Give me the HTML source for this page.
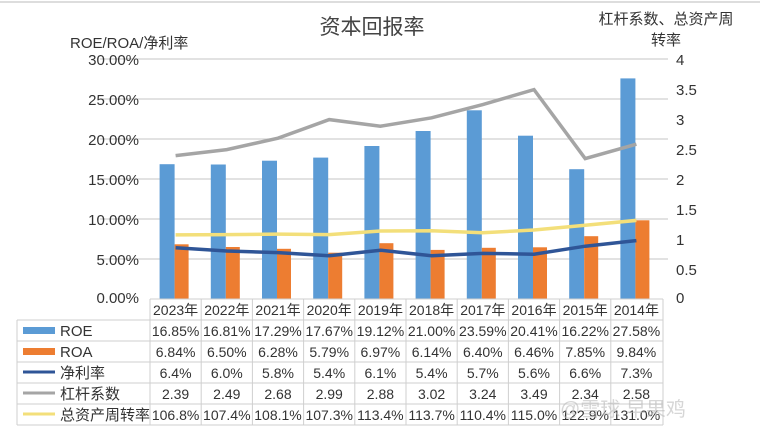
<!DOCTYPE html>
<html><head><meta charset="utf-8"><style>
body{margin:0;background:#fff;}
svg{display:block;font-family:"Liberation Sans","Noto Sans CJK SC",sans-serif;}
</style></head><body>
<svg width="760" height="434" viewBox="0 0 760 434">
<rect x="0" y="0" width="760" height="434" fill="#fff"/>
<line x1="0" y1="2" x2="760" y2="2" stroke="#ddd" stroke-width="2"/>
<text x="372" y="34" font-size="21" text-anchor="middle" fill="#444">资本回报率</text>
<text x="70" y="48" font-size="15" fill="#333">ROE/ROA/净利率</text>
<text x="666" y="24" font-size="15" text-anchor="middle" fill="#333">杠杆系数、总资产周</text>
<text x="666" y="45" font-size="15" text-anchor="middle" fill="#333">转率</text>
<g stroke="#d0d0d0" stroke-width="1.2">
<line x1="100" y1="59" x2="668" y2="59"/><line x1="100" y1="99" x2="668" y2="99"/>
<line x1="100" y1="139" x2="668" y2="139"/><line x1="100" y1="179" x2="668" y2="179"/>
<line x1="100" y1="219" x2="668" y2="219"/><line x1="100" y1="259" x2="668" y2="259"/>
</g>
<g font-size="15" fill="#333" text-anchor="end">
<text x="139" y="65">30.00%</text><text x="139" y="105">25.00%</text><text x="139" y="145">20.00%</text>
<text x="139" y="185">15.00%</text><text x="139" y="225">10.00%</text><text x="139" y="265">5.00%</text>
<text x="139" y="303">0.00%</text>
</g>
<g font-size="15" fill="#333">
<text x="676" y="65">4</text><text x="676" y="95">3.5</text><text x="676" y="125">3</text>
<text x="676" y="155">2.5</text><text x="676" y="185">2</text><text x="676" y="215">1.5</text>
<text x="676" y="245">1</text><text x="676" y="275">0.5</text><text x="676" y="303">0</text>
</g>
<g fill="#5b9bd5">
<rect x="159.6" y="164.2" width="15" height="134.8"/><rect x="210.8" y="164.5" width="15" height="134.5"/>
<rect x="262" y="160.7" width="15" height="138.3"/><rect x="313.2" y="157.6" width="15" height="141.4"/>
<rect x="364.4" y="146" width="15" height="153"/><rect x="415.6" y="131" width="15" height="168"/>
<rect x="466.8" y="110.3" width="15" height="188.7"/><rect x="518" y="135.7" width="15" height="163.3"/>
<rect x="569.2" y="169.2" width="15" height="129.8"/><rect x="620.4" y="78.4" width="15" height="220.6"/>
</g>
<g fill="#ed7d31">
<rect x="174.6" y="244.3" width="14" height="54.7"/><rect x="225.8" y="247" width="14" height="52"/>
<rect x="277" y="248.8" width="14" height="50.2"/><rect x="328.2" y="252.7" width="14" height="46.3"/>
<rect x="379.4" y="243.2" width="14" height="55.8"/><rect x="430.6" y="249.9" width="14" height="49.1"/>
<rect x="481.8" y="247.8" width="14" height="51.2"/><rect x="533" y="247.3" width="14" height="51.7"/>
<rect x="584.2" y="236.2" width="14" height="62.8"/><rect x="635.4" y="220.3" width="14" height="78.7"/>
</g>
<polyline fill="none" stroke="#a5a5a5" stroke-width="3.5" points="175.6,155.6 226.8,149.6 278,138.2 329.2,119.6 380.4,126.2 431.6,117.8 482.8,104.6 534,89.6 585.2,158.6 636.4,144.2"/>
<polyline fill="none" stroke="#f3df7a" stroke-width="3.5" points="175.6,234.9 226.8,234.6 278,234.1 329.2,234.6 380.4,231 431.6,230.8 482.8,232.8 534,230 585.2,225.3 636.4,220.4"/>
<polyline fill="none" stroke="#2f5597" stroke-width="3.5" points="175.6,247.8 226.8,251 278,252.6 329.2,255.8 380.4,250.2 431.6,255.8 482.8,253.4 534,254.2 585.2,246.2 636.4,240.6"/>
<g stroke="#cfcfcf" stroke-width="1" fill="none">
<line x1="150" y1="299" x2="663" y2="299"/>
<line x1="17" y1="320" x2="663" y2="320"/><line x1="17" y1="341" x2="663" y2="341"/>
<line x1="17" y1="362" x2="663" y2="362"/><line x1="17" y1="383" x2="663" y2="383"/>
<line x1="17" y1="404" x2="663" y2="404"/><line x1="17" y1="425" x2="663" y2="425"/>
<line x1="17" y1="320" x2="17" y2="425"/>
<line x1="150" y1="299" x2="150" y2="425"/><line x1="201.2" y1="299" x2="201.2" y2="425"/>
<line x1="252.4" y1="299" x2="252.4" y2="425"/><line x1="303.6" y1="299" x2="303.6" y2="425"/>
<line x1="354.8" y1="299" x2="354.8" y2="425"/><line x1="406" y1="299" x2="406" y2="425"/>
<line x1="457.2" y1="299" x2="457.2" y2="425"/><line x1="508.4" y1="299" x2="508.4" y2="425"/>
<line x1="559.6" y1="299" x2="559.6" y2="425"/><line x1="610.8" y1="299" x2="610.8" y2="425"/>
<line x1="663" y1="299" x2="663" y2="425"/>
</g>
<rect x="23" y="327" width="32" height="7" fill="#5b9bd5"/>
<rect x="23" y="348" width="32" height="7" fill="#ed7d31"/>
<line x1="23" y1="372" x2="55" y2="372" stroke="#2f5597" stroke-width="3"/>
<line x1="23" y1="393" x2="55" y2="393" stroke="#a5a5a5" stroke-width="3"/>
<line x1="23" y1="414" x2="55" y2="414" stroke="#f3df7a" stroke-width="3"/>
<g font-size="15" fill="#333">
<text x="60" y="336">ROE</text><text x="60" y="357">ROA</text><text x="60" y="378">净利率</text>
<text x="60" y="399">杠杆系数</text><text x="60" y="420">总资产周转率</text>
</g>
<g font-size="14" fill="#333" text-anchor="middle">
<g><text x="175.6" y="315">2023年</text><text x="226.8" y="315">2022年</text><text x="278" y="315">2021年</text><text x="329.2" y="315">2020年</text><text x="380.4" y="315">2019年</text><text x="431.6" y="315">2018年</text><text x="482.8" y="315">2017年</text><text x="534" y="315">2016年</text><text x="585.2" y="315">2015年</text><text x="636.4" y="315">2014年</text></g>
<g><text x="175.6" y="336">16.85%</text><text x="226.8" y="336">16.81%</text><text x="278" y="336">17.29%</text><text x="329.2" y="336">17.67%</text><text x="380.4" y="336">19.12%</text><text x="431.6" y="336">21.00%</text><text x="482.8" y="336">23.59%</text><text x="534" y="336">20.41%</text><text x="585.2" y="336">16.22%</text><text x="636.4" y="336">27.58%</text></g>
<g><text x="175.6" y="357">6.84%</text><text x="226.8" y="357">6.50%</text><text x="278" y="357">6.28%</text><text x="329.2" y="357">5.79%</text><text x="380.4" y="357">6.97%</text><text x="431.6" y="357">6.14%</text><text x="482.8" y="357">6.40%</text><text x="534" y="357">6.46%</text><text x="585.2" y="357">7.85%</text><text x="636.4" y="357">9.84%</text></g>
<g><text x="175.6" y="378">6.4%</text><text x="226.8" y="378">6.0%</text><text x="278" y="378">5.8%</text><text x="329.2" y="378">5.4%</text><text x="380.4" y="378">6.1%</text><text x="431.6" y="378">5.4%</text><text x="482.8" y="378">5.7%</text><text x="534" y="378">5.6%</text><text x="585.2" y="378">6.6%</text><text x="636.4" y="378">7.3%</text></g>
<g><text x="175.6" y="399">2.39</text><text x="226.8" y="399">2.49</text><text x="278" y="399">2.68</text><text x="329.2" y="399">2.99</text><text x="380.4" y="399">2.88</text><text x="431.6" y="399">3.02</text><text x="482.8" y="399">3.24</text><text x="534" y="399">3.49</text><text x="585.2" y="399">2.34</text><text x="636.4" y="399">2.58</text></g>
<g><text x="175.6" y="420">106.8%</text><text x="226.8" y="420">107.4%</text><text x="278" y="420">108.1%</text><text x="329.2" y="420">107.3%</text><text x="380.4" y="420">113.4%</text><text x="431.6" y="420">113.7%</text><text x="482.8" y="420">110.4%</text><text x="534" y="420">115.0%</text><text x="585.2" y="420">122.9%</text><text x="636.4" y="420">131.0%</text></g>
</g>
<text x="560" y="416" font-size="20" fill="#bbb" opacity="0.6">@雪球 早果鸡</text>
</svg>
</body></html>
